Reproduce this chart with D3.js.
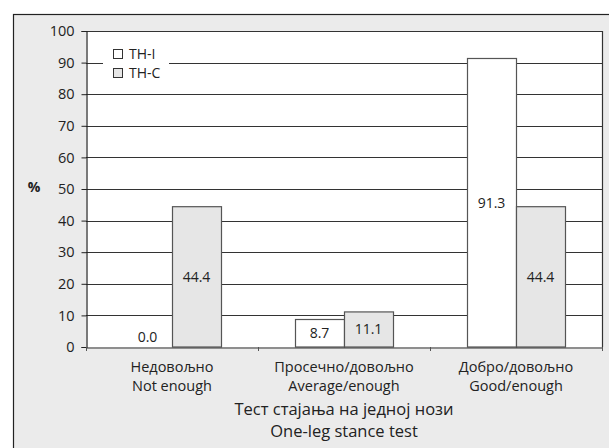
<!DOCTYPE html>
<html>
<head>
<meta charset="utf-8">
<script src="https://cdn.jsdelivr.net/npm/d3@7/dist/d3.min.js"></script>
<style>
  html, body { margin: 0; padding: 0; background: #ffffff; }
  svg { display: block; font-family: "Open Sans", "Noto Sans", sans-serif; }
</style>
</head>
<body>
<svg id="chart" width="609" height="448"></svg>
<script>
// Categories (two-line labels: Serbian / English)
const categories = ["Недовољно|Not enough", "Просечно/довољно|Average/enough", "Добро/довољно|Good/enough"];
const seriesNames = ["TH-I", "TH-C"];
const thI = [0.0, 8.7, 91.3];
const thC = [44.4, 11.1, 44.4];
const yTicks = [0, 10, 20, 30, 40, 50, 60, 70, 80, 90, 100];
const titleLines = ["Тест стајања на једној нози", "One-leg stance test"];

const fills = { "TH-I": "#ffffff", "TH-C": "#e6e6e6" };

const svg = d3.select("#chart");
const W = 609, H = 448;
const plot = { left: 86, right: 602, top: 31, bottom: 347 };

// outer frame (light grey panel)
svg.append("rect")
  .attr("x", 13.5).attr("y", 14.5)
  .attr("width", W).attr("height", H)
  .attr("fill", "#ebebeb").attr("stroke", "#222").attr("stroke-width", 1.2);

// plot area
svg.append("rect")
  .attr("x", plot.left).attr("y", plot.top)
  .attr("width", plot.right - plot.left).attr("height", plot.bottom - plot.top)
  .attr("fill", "#ffffff");

const x0 = d3.scaleBand().domain(categories).range([plot.left, plot.right]);
const groupW = 98;
const x1 = d3.scaleBand().domain(seriesNames).range([0, groupW]);
const y = d3.scaleLinear().domain([0, 100]).range([plot.bottom, plot.top]);

// gridlines
svg.append("g")
  .selectAll("line")
  .data(yTicks.filter(t => t > 0 && t < 100))
  .join("line")
  .attr("x1", plot.left).attr("x2", plot.right)
  .attr("y1", d => Math.round(y(d)) + 0.5).attr("y2", d => Math.round(y(d)) + 0.5)
  .attr("stroke", "#333").attr("stroke-width", 1);

// plot border (top + right)
svg.append("path")
  .attr("d", `M${plot.left},${plot.top + 0.5}H${plot.right + 0.5}V${plot.bottom}`)
  .attr("fill", "none").attr("stroke", "#333").attr("stroke-width", 1.2);

// y axis
const yAxis = svg.append("g")
  .attr("transform", `translate(${plot.left + 0.5},0)`)
  .call(d3.axisLeft(y).tickValues(yTicks).tickSize(5).tickPadding(7).tickFormat(d3.format("d")));
yAxis.select(".domain").attr("stroke", "#222").attr("stroke-width", 1.2);
yAxis.selectAll(".tick line").attr("stroke", "#222");
yAxis.selectAll(".tick text").attr("font-size", 14.5).attr("fill", "#222")
  .attr("font-family", "'Open Sans', sans-serif");

// legend (white box over gridline)
const leg = svg.append("g");
leg.append("rect").attr("x", 103).attr("y", 44).attr("width", 66).attr("height", 38).attr("fill", "#fff");
seriesNames.forEach((s, i) => {
  const ly = 49 + i * 19;
  leg.append("rect").attr("x", 113.5).attr("y", ly + 0.5).attr("width", 9).attr("height", 9)
    .attr("fill", fills[s]).attr("stroke", "#333").attr("stroke-width", 1);
  leg.append("text").attr("x", 129).attr("y", ly + 10).attr("font-size", 14).attr("fill", "#222").text(s);
});

// bars
const rows = categories.map((c, i) => ({ cat: c, vals: [
  { s: "TH-I", v: thI[i] }, { s: "TH-C", v: thC[i] }
]}));
const gOff = (x0.bandwidth() - groupW) / 2;
const groups = svg.append("g").selectAll("g").data(rows).join("g")
  .attr("transform", d => `translate(${x0(d.cat) + gOff},0)`);
groups.selectAll("rect").data(d => d.vals).join("rect")
  .attr("x", d => x1(d.s) + 0.5)
  .attr("y", d => y(d.v))
  .attr("width", x1.bandwidth())
  .attr("height", d => y(0) - y(d.v))
  .attr("fill", d => fills[d.s])
  .attr("stroke", d => d.v > 0 ? "#555" : "none").attr("stroke-width", 1.2);
groups.selectAll("text").data(d => d.vals).join("text")
  .attr("x", d => x1(d.s) + x1.bandwidth() / 2)
  .attr("y", d => Math.min((y(d.v) + y(0)) / 2, y(0) - 10))
  .attr("dy", "0.35em")
  .attr("text-anchor", "middle").attr("font-size", 14).attr("fill", "#222")
  .text(d => d3.format(".1f")(d.v));

// x axis
const xAxis = svg.append("g")
  .attr("transform", `translate(0,${plot.bottom + 0.5})`)
  .call(d3.axisBottom(x0).tickSize(0).tickFormat(""));
xAxis.select(".domain").attr("stroke", "#333").attr("stroke-width", 1.2);
svg.append("g").selectAll("line")
  .data([...categories.map(c => x0(c)), plot.right])
  .join("line")
  .attr("x1", d => d + 0.5).attr("x2", d => d + 0.5)
  .attr("y1", plot.bottom).attr("y2", plot.bottom + 4)
  .attr("stroke", "#555");

// category labels
categories.forEach(c => {
  const parts = c.split("|");
  const cx = x0(c) + x0.bandwidth() / 2;
  parts.forEach((p, j) => {
    svg.append("text").attr("x", cx).attr("y", 372 + j * 18.5)
      .attr("text-anchor", "middle").attr("font-size", 14.5).attr("fill", "#222").text(p);
  });
});

// axis title
titleLines.forEach((t, j) => {
  svg.append("text").attr("x", (plot.left + plot.right) / 2).attr("y", 415 + j * 22)
    .attr("text-anchor", "middle").attr("font-size", 16.5).attr("fill", "#222").text(t);
});

// y axis unit
svg.append("text").attr("x", 34).attr("y", 192).attr("text-anchor", "middle")
  .attr("font-size", 14).attr("font-weight", "bold").attr("fill", "#222").text("%");
</script>
</body>
</html>
